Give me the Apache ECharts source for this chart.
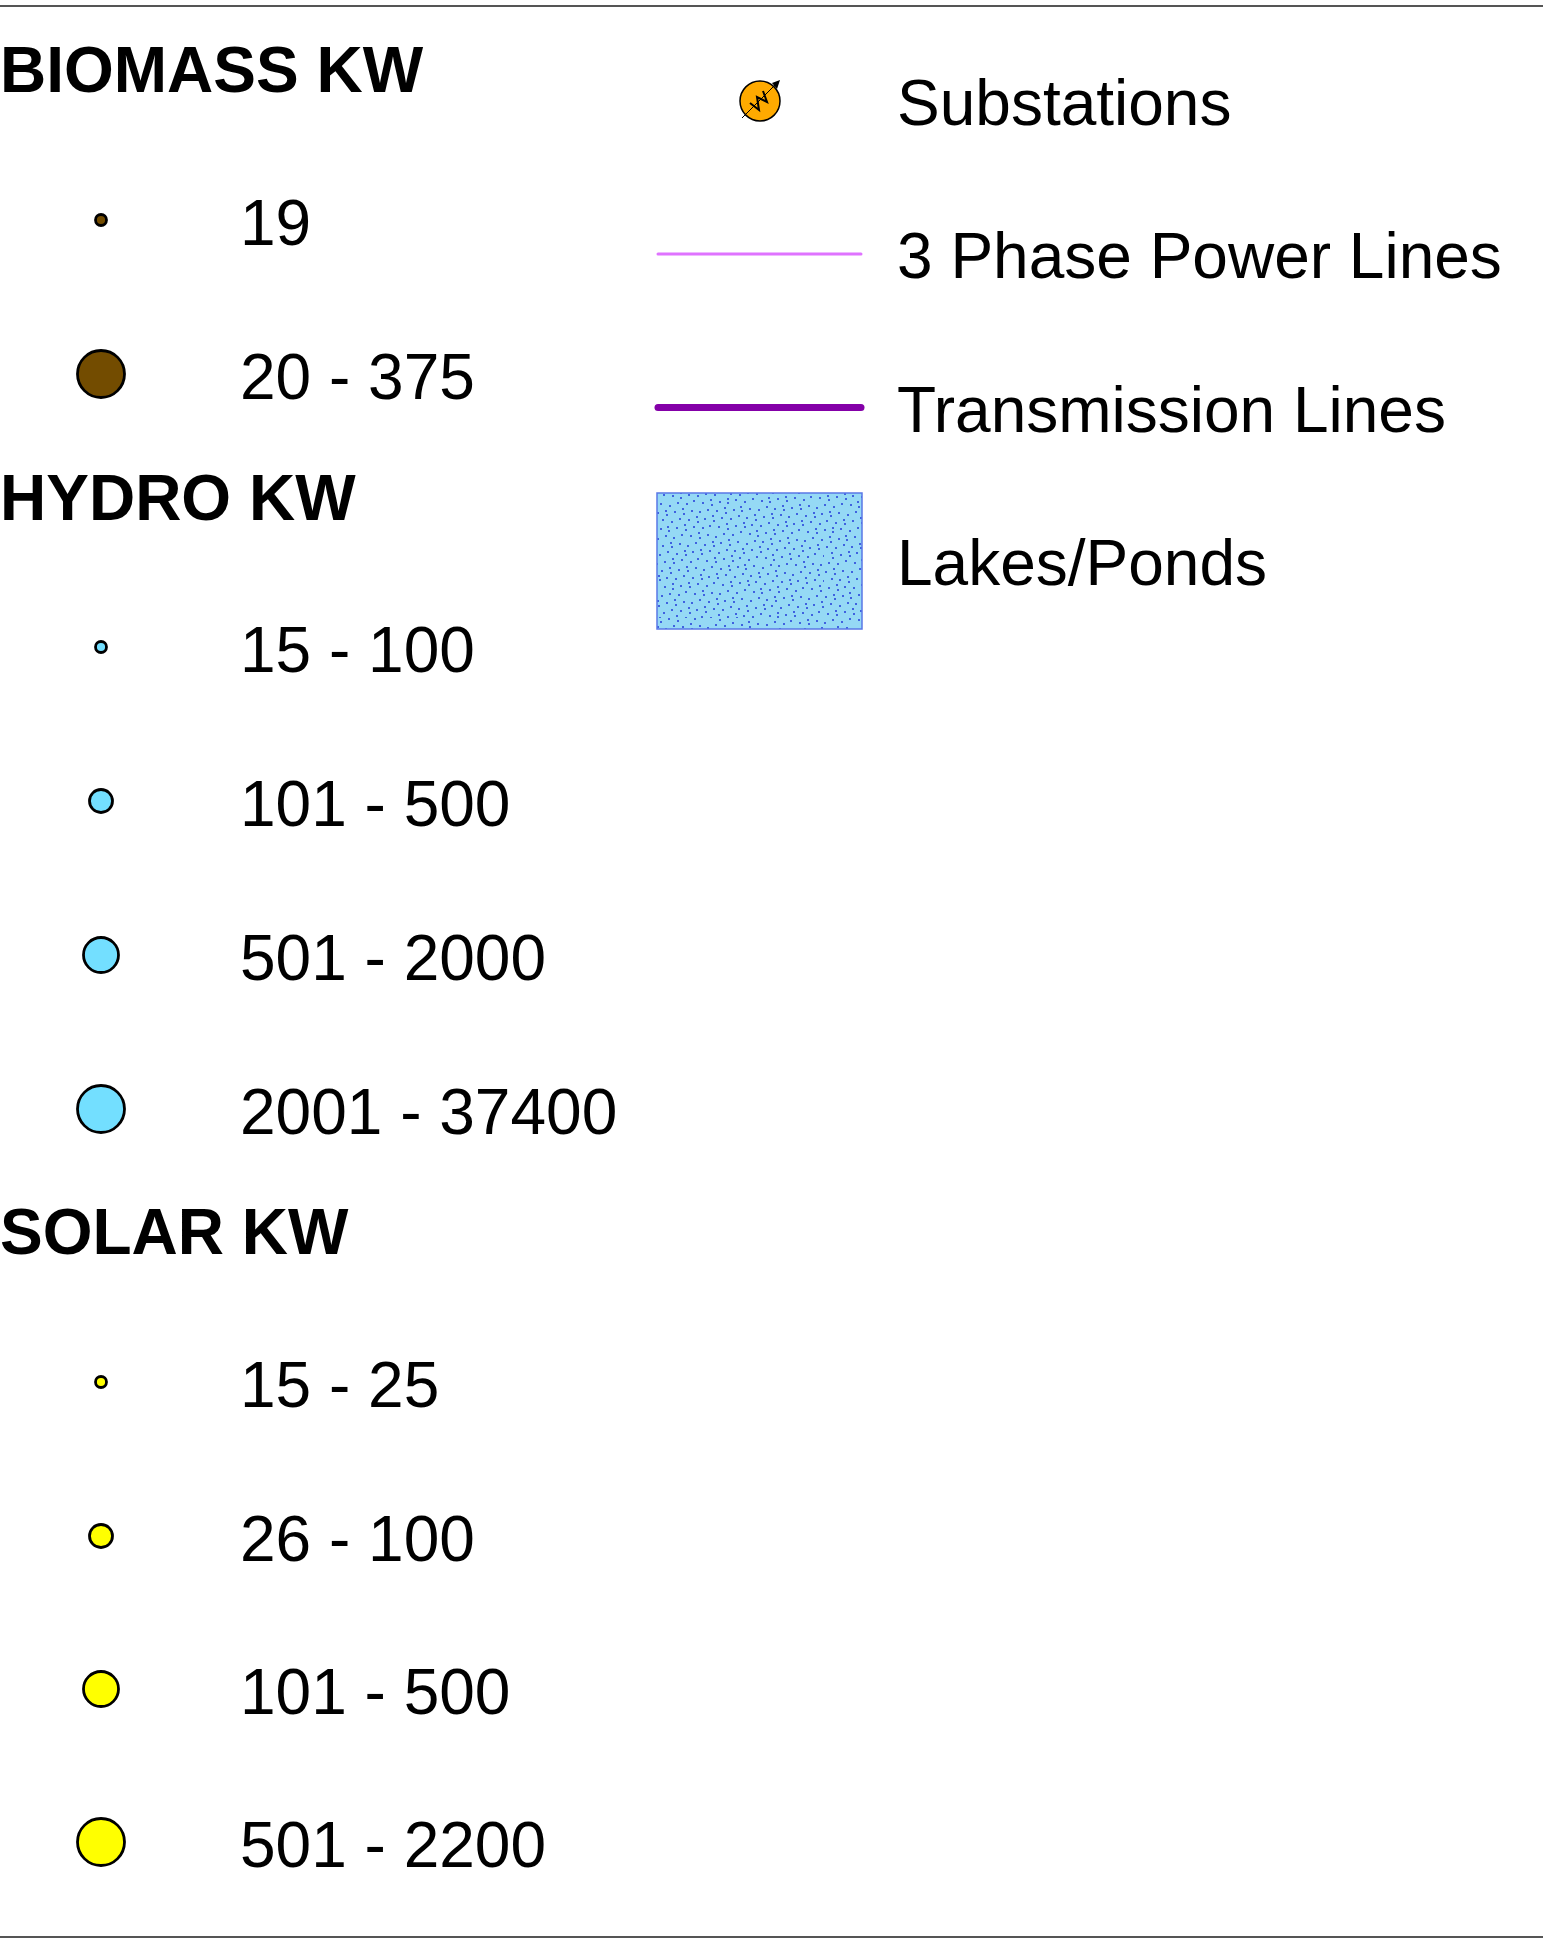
<!DOCTYPE html>
<html>
<head>
<meta charset="utf-8">
<title>Legend</title>
<script src="https://cdn.jsdelivr.net/npm/echarts@6/dist/echarts.min.js"></script>
<style>
  html, body { margin: 0; padding: 0; background: #fff; }
  #main { width: 1543px; height: 1938px; }
</style>
</head>
<body>
<div id="main"></div>
<script>
// legend content
var headings = ['BIOMASS KW', 'HYDRO KW', 'SOLAR KW'];
var biomassLabels = ['19', '20 - 375'];
var hydroLabels = ['15 - 100', '101 - 500', '501 - 2000', '2001 - 37400'];
var solarLabels = ['15 - 25', '26 - 100', '101 - 500', '501 - 2200'];
var otherLabels = ['Substations', '3 Phase Power Lines', 'Transmission Lines', 'Lakes/Ponds'];

// page layout, in pixels of the page (axes below run 0..1543 and 0..1938)
var headingY = [74, 502, 1236];
var biomassY = [220, 374];
var hydroY = [647, 801, 955, 1109];
var solarY = [1382, 1536, 1689, 1842];
var otherY = [107, 260, 414, 567];
var biomassSize = [11, 47];
var classSize = [11, 23, 35, 47];
var markerX = 101, labelX = 240, otherX = 897;
var labelShift = 7;

function circles(ys, sizes, color) {
  return {
    type: 'scatter',
    symbol: 'circle',
    silent: true,
    clip: false,
    itemStyle: { color: color, borderColor: '#000', borderWidth: 2.8, opacity: 1 },
    data: ys.map(function (y, i) { return { value: [markerX, y], symbolSize: sizes[i] }; })
  };
}

function texts(x, ys, labels, bold) {
  return {
    type: 'scatter',
    symbolSize: 0,
    silent: true,
    clip: false,
    itemStyle: { opacity: 1 },
    label: {
      show: true,
      position: 'right',
      distance: 0,
      color: '#000',
      fontFamily: '"Liberation Sans", Arial, sans-serif',
      fontSize: 64,
      fontWeight: bold ? 'bold' : 'normal',
      formatter: function (p) { return labels[p.dataIndex]; }
    },
    data: ys.map(function (y) { return [x, y]; })
  };
}

function shifted(ys) {
  return ys.map(function (y) { return y + labelShift; });
}

function hline(x0, x1, y, color, width) {
  return {
    type: 'line',
    symbol: 'none',
    silent: true,
    clip: false,
    lineStyle: { color: color, width: width, cap: 'round' },
    data: [[x0, y], [x1, y]]
  };
}

// stipple tile for the lake swatch
function stipple() {
  var c = document.createElement('canvas');
  c.width = 206; c.height = 206;
  var g = c.getContext('2d');
  g.fillStyle = '#95d9f5';
  g.fillRect(0, 0, c.width, c.height);
  g.fillStyle = '#3f62e0';
  for (var i = 1; i <= 780; i++) {
    var px = (i * 0.7548776662) % 1, py = (i * 0.5698402910) % 1;
    g.fillRect(Math.floor(px * c.width), Math.floor(py * c.height), 2, 2);
  }
  return c;
}

var myChart = echarts.init(document.getElementById('main'));
myChart.setOption({
  animation: false,
  backgroundColor: '#fff',
  grid: { left: 0, right: 0, top: 0, bottom: 0 },
  xAxis: { type: 'value', min: 0, max: 1543, show: false },
  yAxis: { type: 'value', min: 0, max: 1938, inverse: true, show: false },
  series: [
    hline(0, 1543, 6, '#555', 2),
    hline(0, 1543, 1937, '#555', 2),
    texts(0, headingY, headings, true),
    circles(biomassY, biomassSize, '#734c00'),
    circles(hydroY, classSize, '#73dfff'),
    circles(solarY, classSize, '#ffff00'),
    texts(labelX, shifted(biomassY), biomassLabels),
    texts(labelX, shifted(hydroY), hydroLabels),
    texts(labelX, shifted(solarY), solarLabels),
    texts(otherX, otherY, otherLabels),
    hline(658, 861, 254, '#df73ff', 3),
    hline(658, 861, 407.5, '#8400a8', 7),
    {
      // lake swatch
      type: 'custom',
      silent: true,
      clip: false,
      data: [[657, 493, 862, 629]],
      renderItem: function (params, api) {
        var a = api.coord([api.value(0), api.value(1)]);
        var b = api.coord([api.value(2), api.value(3)]);
        return {
          type: 'rect',
          shape: { x: a[0], y: a[1], width: b[0] - a[0], height: b[1] - a[1] },
          style: { fill: { image: stipple(), repeat: 'repeat' }, stroke: '#5a78e6', lineWidth: 1.5 }
        };
      }
    },
    {
      // substation symbol
      type: 'custom',
      silent: true,
      clip: false,
      data: [[760, 101]],
      renderItem: function (params, api) {
        var p = api.coord([api.value(0), api.value(1)]);
        return {
          type: 'group',
          x: p[0],
          y: p[1],
          children: [
            { type: 'circle', shape: { cx: 0, cy: 0, r: 20 }, style: { fill: '#ffaa00', stroke: '#000', lineWidth: 1.5 } },
            { type: 'line', shape: { x1: -18, y1: 17, x2: 16, y2: -17 }, style: { stroke: '#000', lineWidth: 1 } },
            { type: 'polygon', shape: { points: [[20, -21], [12, -18], [17, -12]] }, style: { fill: '#000' } },
            { type: 'polyline', shape: { points: [[-10, 2], [-1, 9], [-3, -4], [7, 1], [3, -10]] }, style: { fill: 'none', stroke: '#000', lineWidth: 2 } }
          ]
        };
      }
    }
  ]
});
window.onresize = function () { myChart.resize(); };
</script>
</body>
</html>
